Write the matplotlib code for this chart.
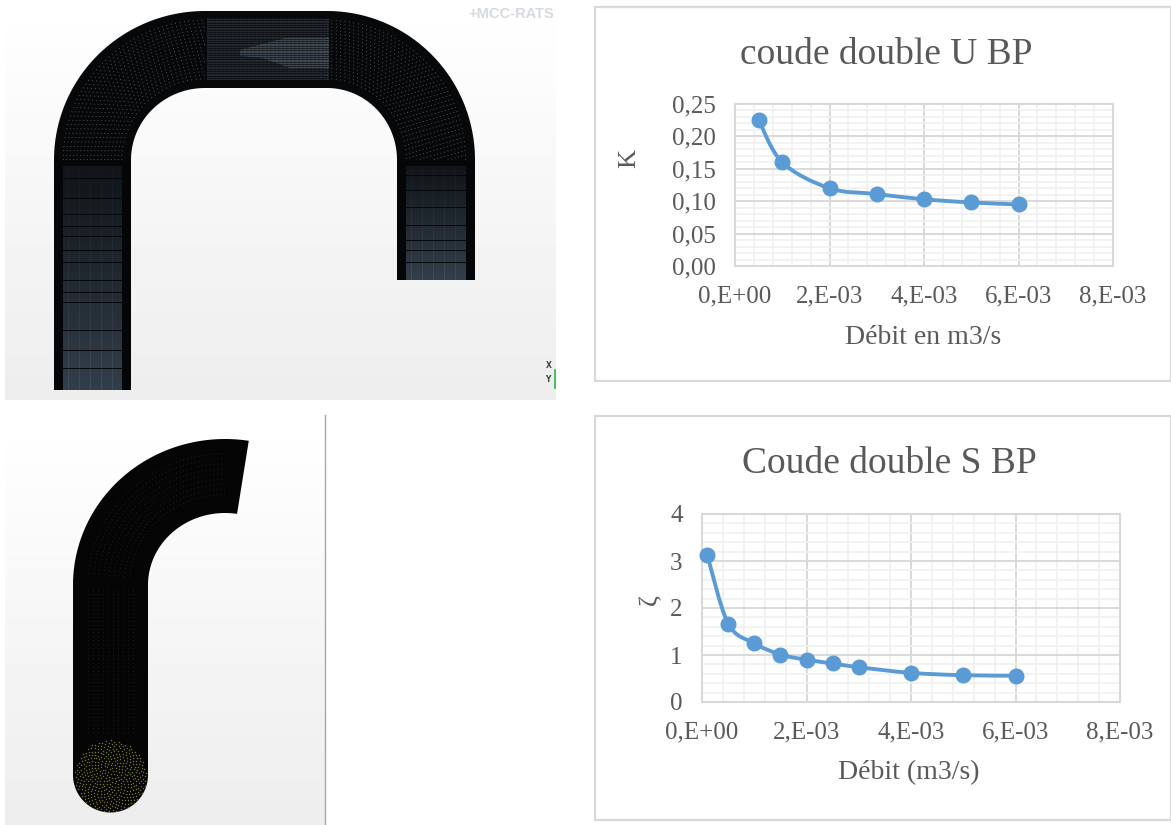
import numpy as np
import matplotlib
matplotlib.use("Agg")
import matplotlib.pyplot as plt
from matplotlib.colors import LinearSegmentedColormap
from matplotlib.path import Path
from matplotlib.patches import PathPatch, Rectangle
from matplotlib.ticker import MultipleLocator, FuncFormatter

# data
debit_u = [0.5e-3, 1e-3, 2e-3, 3e-3, 4e-3, 5e-3, 6e-3]
k_u = [0.226, 0.160, 0.120, 0.111, 0.103, 0.098, 0.095]
debit_s = [0.1e-3, 0.5e-3, 1e-3, 1.5e-3, 2e-3, 2.5e-3, 3e-3, 4e-3, 5e-3, 6e-3]
zeta_s = [3.13, 1.67, 1.25, 1.01, 0.90, 0.82, 0.74, 0.62, 0.57, 0.56]
xticks_labels = ["0,E+00", "2,E-03", "4,E-03", "6,E-03", "8,E-03"]

W, H = 1171, 825
SERIF = ["Liberation Serif", "DejaVu Serif"]
TXT = "#595959"
BLUE = "#5B9BD5"
SLATE = LinearSegmentedColormap.from_list("slate", ["#14181d", "#3d4c5a"])

fig = plt.figure(figsize=(W / 100, H / 100), dpi=100)
bg = fig.add_axes([0, 0, 1, 1])
bg.set_xlim(0, W)
bg.set_ylim(H, 0)
bg.axis("off")


def gradient(x0, y0, x1, y1):
    g = np.linspace(1.0, 0.93, 64).reshape(-1, 1)
    bg.imshow(g, extent=(x0, x1, y1, y0), cmap="gray", vmin=0, vmax=1, aspect="auto", zorder=0)
    bg.set_xlim(0, W)
    bg.set_ylim(H, 0)


def arc(cx, cy, rx, ry, a0, a1, n=80):
    t = np.radians(np.linspace(a0, a1, n))
    return np.column_stack([cx + rx * np.cos(t), cy - ry * np.sin(t)])


def poly(pts, color, z=2, lw=0):
    bg.fill(pts[:, 0], pts[:, 1], color=color, lw=lw, zorder=z)


def leg_mesh(x0, x1, y0, y1, rows):
    # gaine de maille : bords noirs, coeur gris ardoise
    bg.add_patch(Rectangle((x0, y0), x1 - x0, y1 - y0, color="#050607", lw=0, zorder=2))
    bg.imshow(np.linspace(0, 1, 32).reshape(-1, 1), extent=(x0 + 9, x1 - 9, y1, y0 + 6),
              cmap=SLATE, vmin=0, vmax=1, aspect="auto", zorder=3)
    bg.set_xlim(0, W)
    bg.set_ylim(H, 0)
    for x in np.arange(x0 + 9, x1 - 8, 2.2):
        bg.plot([x, x], [y0, y1], color="#07090b", lw=0.3, solid_capstyle="butt", zorder=4)
    for y in rows:
        bg.plot([x0 + 2, x1 - 2], [y, y], color="#05070a", lw=0.7, solid_capstyle="butt", zorder=4)


# panel 1 : coude U
gradient(5, 0, 556, 400)
outer = np.vstack([[[54, 390]], arc(205, 160, 151, 149, 180, 90), arc(327, 160, 148, 149, 90, 0), [[475, 280]],
                   [[397, 280]], arc(327, 160, 70, 72, 0, 90), arc(205, 160, 74, 72, 90, 180), [[131, 390]]])
poly(outer, "#07080a")
leg_mesh(54, 131, 160, 390, [178, 198, 214, 226, 236, 250, 262, 280, 292, 302, 330, 350, 368])
leg_mesh(397, 475, 160, 280, [175, 190, 207, 225, 240, 250, 262])

# section droite du haut
bg.add_patch(Rectangle((207, 18), 122, 62, color="#23292f", lw=0, zorder=3))
core = np.array([[240, 50], [285, 38], [329, 38], [329, 68], [290, 68], [262, 58], [240, 56]])
poly(core, "#434c55", z=3)
for y in np.arange(18, 80, 2.3):
    bg.plot([207, 329], [y, y], color="#07090b", lw=0.45, solid_capstyle="butt", zorder=4)
for x in np.arange(207, 329, 4):
    bg.plot([x, x], [18, 80], color="#07090b", lw=0.2, solid_capstyle="butt", zorder=4)

# texture des coudes
for cx, rx_o, rx_i, a0, a1 in [(205, 151, 74, 180, 90), (327, 148, 70, 90, 0)]:
    for f in np.linspace(0.12, 0.88, 18):
        pts = arc(cx, 160, rx_i + f * (rx_o - rx_i), 72 + f * 77, a0, a1, 60)
        bg.plot(pts[:, 0], pts[:, 1], color="#aab2ba", lw=0.8, alpha=0.55, ls=(0, (0.6, 3.4)), zorder=3)

bg.text(511, 14, "+MCC-RATS", color="#d5dae0", fontsize=10.5, family="Liberation Sans",
        fontweight="bold", ha="center", va="center", zorder=5)
bg.text(549, 365, "X", color="#444444", fontsize=5.5, fontweight="bold", ha="center", va="center", zorder=5)
bg.text(548, 379, "Y", color="#444444", fontsize=5.5, fontweight="bold", ha="center", va="center", zorder=5)
bg.plot([555, 555], [370, 388], color="#35c24a", lw=1.3, zorder=5)

# panel 2 : coude S
gradient(5, 415, 325, 825)
bg.plot([325, 325], [415, 825], color="#a8a8a8", lw=1, zorder=2)
tube = np.vstack([arc(110.5, 775, 37.5, 37.5, 180, 360), arc(225, 585, 77, 72, 180, 81),
                  arc(225, 585, 152, 146, 81, 180)])
poly(tube, "#050506")
n = np.arange(1, 420)
ang = n * np.radians(137.508)
r = 36 * np.sqrt(n / 420)
bg.scatter(110.5 + r * np.cos(ang), 776 + r * np.sin(ang), s=1.1, color="#77752a", lw=0, zorder=3)
for f in np.linspace(0.25, 0.8, 9):
    pts = arc(225, 585, 77 + f * 75, 72 + f * 74, 175, 90, 50)
    bg.plot(pts[:, 0], pts[:, 1], color="#70767c", lw=0.6, alpha=0.45, ls=(0, (0.6, 4)), zorder=3)
for x in np.arange(88, 136, 5):
    bg.plot([x, x], [590, 735], color="#70767c", lw=0.6, alpha=0.4, ls=(0, (0.6, 4)), zorder=3)


def smooth_path(xs, ys):
    # courbe lissee facon Excel (Catmull-Rom en Bezier)
    xs, ys = np.asarray(xs), np.asarray(ys)
    verts = [(xs[0], ys[0])]
    for i in range(len(xs) - 1):
        p0 = i - 1 if i > 0 else i
        p3 = i + 2 if i + 2 < len(xs) else i + 1
        verts.append((xs[i] + (xs[i + 1] - xs[p0]) / 6, ys[i] + (ys[i + 1] - ys[p0]) / 6))
        verts.append((xs[i + 1] - (xs[p3] - xs[i]) / 6, ys[i + 1] - (ys[p3] - ys[i]) / 6))
        verts.append((xs[i + 1], ys[i + 1]))
    return Path(verts, [Path.MOVETO] + [Path.CURVE4] * (len(verts) - 1))


def chart(frame, box, x, y, ymax, ymajor, yfmt, ypad, title, title_xy, xlabel, xlabel_xy, ylabel, ylabel_xy):
    fx0, fy0, fx1, fy1 = frame
    bg.add_patch(Rectangle((fx0, fy0), fx1 - fx0, fy1 - fy0, fc="white", ec="#d9d9d9", lw=1.6, zorder=1))
    x0, y0, x1, y1 = box
    ax = fig.add_axes([x0 / W, 1 - y1 / H, (x1 - x0) / W, (y1 - y0) / H])
    ax.set_xlim(0, 8e-3)
    ax.set_ylim(0, ymax)
    ax.xaxis.set_major_locator(MultipleLocator(2e-3))
    ax.xaxis.set_minor_locator(MultipleLocator(4e-4))
    ax.yaxis.set_major_locator(MultipleLocator(ymajor))
    ax.yaxis.set_minor_locator(MultipleLocator(ymajor / 5))
    ax.grid(True, which="minor", color="#f0f0f0", lw=1.2)
    ax.grid(True, which="major", color="#d9d9d9", lw=1.4)
    ax.set_axisbelow(True)
    ax.tick_params(which="both", length=0)
    ax.tick_params(axis="x", labelsize=18, labelcolor=TXT, pad=14)
    ax.tick_params(axis="y", labelsize=18, labelcolor=TXT, pad=ypad)
    ax.set_xticks(np.arange(0, 9e-3, 2e-3), xticks_labels, family=SERIF)
    ax.yaxis.set_major_formatter(FuncFormatter(lambda v, _: yfmt.format(v).replace(".", ",")))
    for lab in ax.get_yticklabels():
        lab.set_family(SERIF)
    for s in ax.spines.values():
        s.set_color("#d9d9d9")
        s.set_linewidth(1.5)
    ax.add_patch(PathPatch(smooth_path(x, y), fc="none", ec=BLUE, lw=2.8, zorder=3))
    ax.plot(x, y, ls="none", marker="o", ms=10.5, color=BLUE, clip_on=False, zorder=4)
    bg.text(*title_xy, title, fontsize=27, color=TXT, family=SERIF, ha="center", va="center", zorder=2)
    bg.text(*xlabel_xy, xlabel, fontsize=20, color=TXT, family=SERIF, ha="center", va="center", zorder=2)
    bg.text(*ylabel_xy, ylabel, fontsize=19, color=TXT, family=SERIF, ha="center", va="center",
            rotation=90, zorder=2)
    return ax


chart((595, 7, 1171, 381), (735, 104, 1113, 266), debit_u, k_u, 0.25, 0.05, "{:.2f}", 14,
      "coude double U BP", (886, 55), "Débit en m3/s", (923, 337), "K", (629, 158))
chart((595, 416, 1171, 820), (702, 514, 1120, 702), debit_s, zeta_s, 4, 1, "{:.0f}", 14,
      "Coude double S BP", (889, 464), "Débit (m3/s)", (909, 773), "ζ", (650, 600))

fig.savefig("out.png", dpi=100)
